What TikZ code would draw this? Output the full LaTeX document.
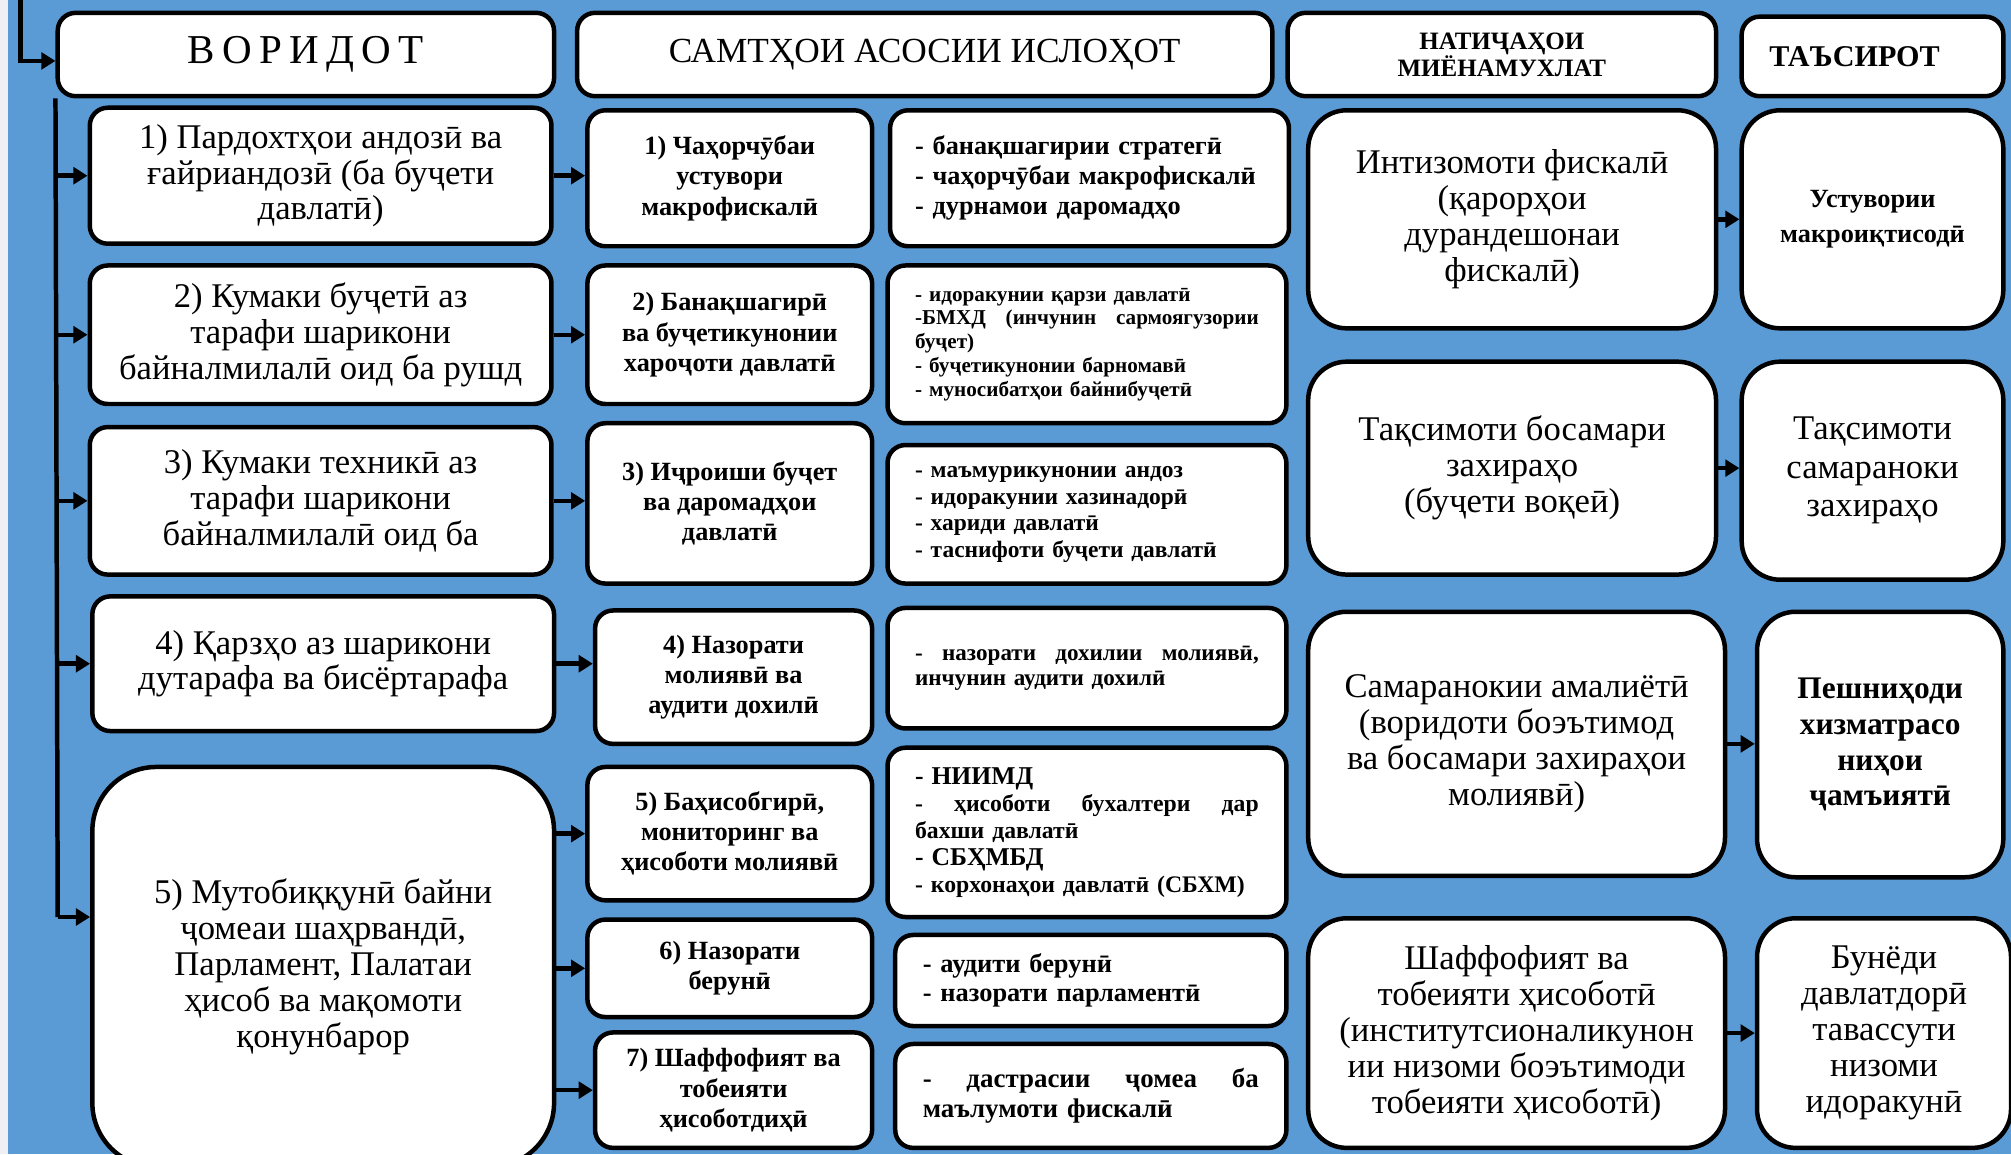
\documentclass[tikz,border=0pt]{standalone}
\usepackage{fontspec}
\setmainfont{Liberation Serif}
\usetikzlibrary{arrows.meta}
\definecolor{bgblue}{RGB}{91,155,213}
\definecolor{strip}{RGB}{238,240,243}
\tikzset{
  box/.style={draw=black,line width=3.5pt,fill=white,rounded corners=14pt,align=center,inner sep=0pt},
  lbox/.style={font=\fontsize{27}{28}\selectfont},
  mbox/.style={font=\bfseries\fontsize{20.5}{23.5}\selectfont},
  dbox/.style={align=left,text width=268pt},
  arr/.style={line width=3.5pt,-{Triangle[length=11pt,width=13pt]}}
}
\newcommand{\bnode}[7][]{\node[box,minimum width=#4pt,minimum height=#5pt,#1] (#6) at (#2,#3) {#7};}
\newcommand{\harr}[2]{\draw[arr] (#1.east) -- (#1.east -| #2.west);}
\newcommand{\varr}[2]{\draw[arr] (#2.west -| #1.east) -- (#2.west);}
\begin{document}
\begin{tikzpicture}[x=1pt,y=-1pt]
  \useasboundingbox (0,0) rectangle (1568,900);
  \fill[strip] (0,0) rectangle (1568,900);
  \fill[bgblue] (6,0) rectangle (1568,900);
  % headers
  \bnode[font=\fontsize{32}{34}\selectfont\addfontfeature{LetterSpace=18}]{238.5}{42.5}{387}{65}{hVor}{ВОРИДОТ}
  \bnode[font=\fontsize{27.5}{30}\selectfont]{721}{42.5}{542}{65}{hSam}{САМТҲОИ АСОСИИ ИСЛОҲОТ}
  \bnode[font=\bfseries\fontsize{19.5}{21}\selectfont]{1171}{42.5}{334}{65}{hNat}{НАТИҶАҲОИ\\МИЁНАМУХЛАТ}
  \bnode[font=\bfseries\fontsize{23.5}{24}\selectfont]{1460}{44}{204}{62}{hTas}{ТАЪСИРОТ\hspace*{28pt}}
  % inputs
  \def\x{250}
  \bnode[lbox]{\x}{137}{360}{106}{L1}{1) Пардохтҳои андозӣ ва\\ғайриандозӣ (ба буҷети\\давлатӣ)}
  \bnode[lbox]{\x}{261}{360}{108}{L2}{2) Кумаки буҷетӣ аз\\тарафи шарикони\\байналмилалӣ оид ба рушд}
  \bnode[lbox]{\x}{390.5}{360}{115}{L3}{3) Кумаки техникӣ аз\\тарафи шарикони\\байналмилалӣ оид ба}
  \bnode[lbox]{\x+2}{517.5}{360}{105}{L4}{4) Қарзҳо аз шарикони\\дутарафа ва бисёртарафа}
  \bnode[lbox,rounded corners=50pt]{\x+2}{754}{360}{312}{L5}{5) Мутобиққунӣ байни\\ҷомеаи шаҳрвандӣ,\\Парламент, Палатаи\\ҳисоб ва мақомоти\\қонунбарор}
  % reforms
  \def\x{569}
  \bnode[mbox]{\x}{139}{222}{106}{M1}{1) Чаҳорчӯбаи\\устувори\\макрофискалӣ}
  \bnode[mbox]{\x}{261}{222}{108}{M2}{2) Банақшагирӣ\\ва буҷетикунонии\\хароҷоти давлатӣ}
  \bnode[mbox]{\x}{392.5}{222}{125}{M3}{3) Иҷроиши буҷет\\ва даромадҳои\\давлатӣ}
  \bnode[mbox]{\x+3}{528}{216}{104}{M4}{4) Назорати\\молиявӣ ва\\аудити дохилӣ}
  \bnode[mbox]{\x}{650}{222}{104}{M5}{5) Баҳисобгирӣ,\\мониторинг ва\\ҳисоботи молиявӣ}
  \bnode[mbox]{\x}{755}{222}{76}{M6}{6) Назорати\\берунӣ}
  \bnode[mbox]{\x+3}{850}{216}{90}{M7}{7) Шаффофият ва\\тобеияти\\ҳисоботдиҳӣ}
  \def\x{847.5}
  \bnode[dbox,text width=272pt,font=\bfseries\fontsize{20.5}{23.5}\selectfont]{\x+2}{139}{311}{106}{D1}{- банақшагирии стратегӣ\\- чаҳорчӯбаи макрофискалӣ\\- дурнамои даромадҳо}
  \bnode[dbox,font=\bfseries\fontsize{16.5}{18.5}\selectfont]{\x}{268.5}{311}{123}{D2}{- идоракунии қарзи давлатӣ\\-БМХД\hfill(инчунин\hfill сармоягузории\\буҷет)\\- буҷетикунонии барномавӣ\\- муносибатҳои байнибуҷетӣ}
  \bnode[dbox,font=\bfseries\fontsize{18.3}{20.7}\selectfont]{\x}{401}{311}{108}{D3}{- маъмурикунонии андоз\\- идоракунии хазинадорӣ\\- хариди давлатӣ\\- таснифоти буҷети давлатӣ}
  \bnode[dbox,font=\bfseries\fontsize{18}{20}\selectfont]{\x}{521}{311}{94}{D4}{-\hfill назорати\hfill дохилии\hfill молиявӣ,\\инчунин аудити дохилӣ}
  \bnode[dbox,font=\bfseries\fontsize{18.5}{21}\selectfont]{\x}{649}{311}{132}{D5}{{\fontsize{20}{21}\selectfont - НИИМД}\\-\hfill ҳисоботи\hfill бухалтери\hfill дар\\бахши давлатӣ\\{\fontsize{20}{21}\selectfont - СБҲМБД}\\- корхонаҳои давлатӣ (СБХМ)}
  \bnode[dbox,text width=262pt,font=\bfseries\fontsize{20.6}{23}\selectfont]{\x+3}{764.5}{305}{71}{D6}{- аудити берунӣ\\- назорати парламентӣ}
  \bnode[dbox,text width=262pt,font=\bfseries\fontsize{21}{23}\selectfont]{\x+3}{854.5}{305}{81}{D7}{-\hfill дастрасии\hfill ҷомеа\hfill ба\\маълумоти фискалӣ}
  % results
  \def\x{1179}
  \bnode[lbox,rounded corners=30pt]{\x}{171}{318}{170}{R1}{Интизомоти фискалӣ\\(қарорҳои\\дурандешонаи\\фискалӣ)}
  \bnode[lbox,rounded corners=30pt]{\x}{365}{318}{166}{R2}{Тақсимоти босамари\\захираҳо\\(буҷети воқеӣ)}
  \bnode[lbox,rounded corners=30pt]{\x+3.5}{580}{325}{206}{R3}{Самаранокии амалиётӣ\\(воридоти боэътимод\\ва босамари захираҳои\\молиявӣ)}
  \bnode[lbox,rounded corners=30pt]{\x+3.5}{805.5}{325}{179}{R4}{Шаффофият ва\\тобеияти ҳисоботӣ\\(институтсионаликунон\\ии низоми боэътимоди\\тобеияти ҳисоботӣ)}
  \def\x{1460}
  \bnode[rounded corners=30pt,font=\bfseries\fontsize{20.5}{27}\selectfont]{\x}{171}{204}{170}{I1}{Устувории\\макроиқтисодӣ}
  \bnode[rounded corners=30pt,font=\fontsize{27}{30}\selectfont]{\x}{367}{204}{170}{I2}{Тақсимоти\\самараноки\\захираҳо}
  \bnode[rounded corners=30pt,font=\bfseries\fontsize{24.5}{28}\selectfont]{\x+6}{580.5}{192}{207}{I3}{Пешниҳоди\\хизматрасо\\ниҳои\\ҷамъиятӣ}
  \bnode[rounded corners=30pt,font=\fontsize{27}{28}\selectfont]{\x+9}{805.5}{198}{179}{I4}{Бунёди\\давлатдорӣ\\тавассути\\низоми\\идоракунӣ}
  % connectors
  \coordinate (feed) at (16,0);
  \coordinate (tb) at (45,715);
  \draw[arr] (feed) |- ([yshift=-5pt]hVor.west);
  \draw[line width=3.5pt] (hVor.south west) -- (tb);
  \draw[arr] (tb) -- (tb -| L5.west);
  \foreach \n in {L1,L2,L3,L4} \draw[arr] (\n.west -| tb) -- (\n.west);
  \harr{L1}{M1} \harr{L2}{M2} \harr{L3}{M3} \harr{L4}{M4}
  \varr{L5}{M5} \varr{L5}{M6} \varr{L5}{M7}
  \harr{R1}{I1} \harr{R2}{I2} \harr{R3}{I3} \harr{R4}{I4}
\end{tikzpicture}
\end{document}
